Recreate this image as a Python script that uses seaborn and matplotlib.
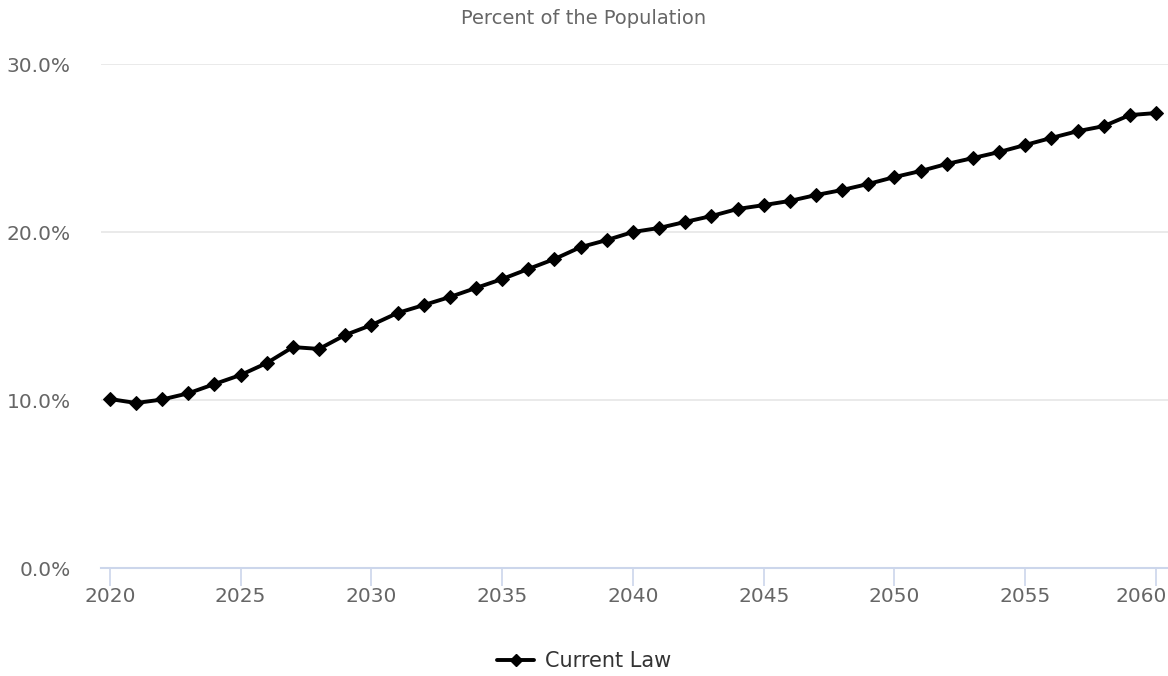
import matplotlib
matplotlib.use("Agg")
import matplotlib.pyplot as plt
import matplotlib.transforms as mtransforms
from matplotlib.ticker import FuncFormatter
import seaborn as sns
import pandas as pd

years = list(range(2020, 2061))
current_law = [
    10.06, 9.82, 10.03, 10.40, 10.95, 11.49, 12.20, 13.15, 13.04, 13.87,
    14.46, 15.18, 15.65, 16.13, 16.67, 17.20, 17.80, 18.39, 19.10, 19.52,
    20.00, 20.24, 20.60, 20.95, 21.37, 21.60, 21.85, 22.20, 22.50, 22.86,
    23.27, 23.63, 24.05, 24.40, 24.76, 25.18, 25.60, 26.00, 26.30, 26.96,
    27.08,
]
series_name = "Current Law"
title = "Percent of the Population"
y_ticks = [0, 10, 20, 30]
x_ticks = [2020, 2025, 2030, 2035, 2040, 2045, 2050, 2055, 2060]

df = pd.DataFrame({"Year": years, "Value": current_law, "Series": series_name})

sns.set_theme(style="white")
plt.rcParams["font.family"] = ["DejaVu Sans"]

text_color = "#666666"
fig = plt.figure(figsize=(11.68, 6.76), dpi=100)
ax = fig.add_axes([101 / 1168, 108 / 676, 1067 / 1168, 504 / 676])

sns.lineplot(
    data=df, x="Year", y="Value", hue="Series", palette=["#000000"],
    marker="D", markersize=7, markeredgecolor="#000000", linewidth=2.8,
    ax=ax, legend=False,
)

ax.set_xlim(2019.66, 2060.46)
ax.set_ylim(0, 30)
ax.set_yticks(y_ticks)
ax.set_xticks(x_ticks)
ax.yaxis.set_major_formatter(FuncFormatter(lambda v, _: f"{v:.1f}%"))
ax.grid(axis="y", color="#e6e6e6", linewidth=1.2)
ax.grid(axis="x", visible=False)
ax.set_axisbelow(True)

for side in ("top", "right", "left"):
    ax.spines[side].set_visible(False)
ax.spines["bottom"].set_color("#ccd6eb")
ax.spines["bottom"].set_linewidth(1.5)

ax.tick_params(axis="x", colors="#ccd6eb", length=13, width=1.2, direction="out",
               labelcolor=text_color, labelsize=14.5, pad=1, bottom=True)
ax.tick_params(axis="y", length=0, labelcolor=text_color, labelsize=14.5, pad=22)
ax.set_xlabel("")
ax.set_ylabel("")

# keep the final year label inside the figure edge
last_label = ax.get_xticklabels()[-1]
last_label.set_horizontalalignment("right")
last_label.set_transform(last_label.get_transform()
                         + mtransforms.ScaledTranslation(11 / 100, 0, fig.dpi_scale_trans))

fig.text(0.5, 1 - 18 / 676, title, ha="center", va="center",
         color=text_color, fontsize=14)

# legend entry beneath the plot
handle = plt.Line2D([], [], color="#000000", marker="D", markersize=6, linewidth=2.8)
fig.legend([handle], [series_name], loc="center", bbox_to_anchor=(0.5, 1 - 661 / 676),
           frameon=False, fontsize=15, handlelength=1.8, handletextpad=0.5,
           labelcolor="#333333", borderpad=0, borderaxespad=0)

fig.savefig("out.png", dpi=100)
